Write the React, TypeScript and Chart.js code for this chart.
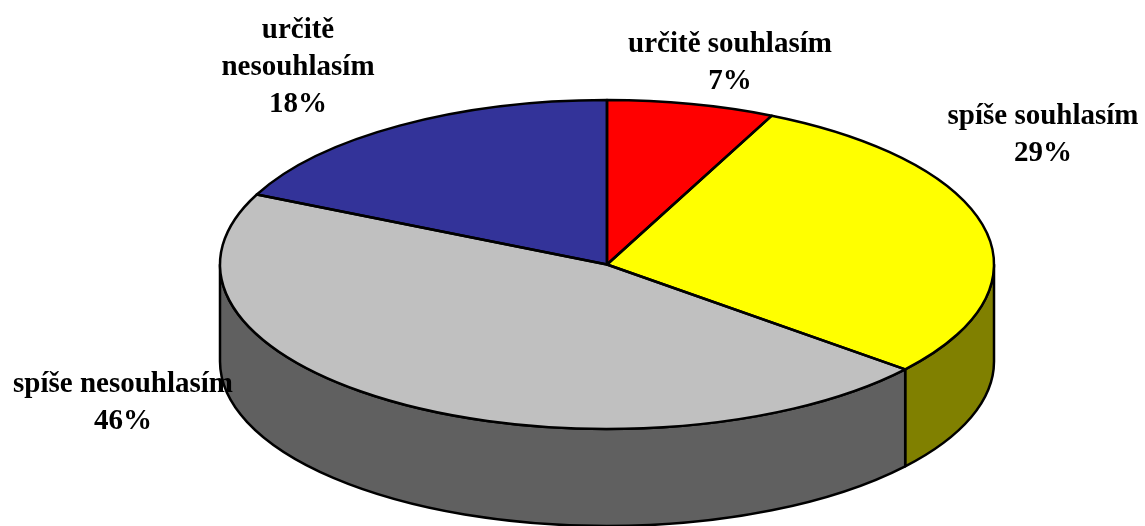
import React, { useEffect, useRef } from "react";
import { Chart, registerables } from "chart.js";

Chart.register(...registerables);

const categories = ["určitě souhlasím", "spíše souhlasím", "spíše nesouhlasím", "určitě nesouhlasím"];
const labelLines = [["určitě souhlasím"], ["spíše souhlasím"], ["spíše nesouhlasím"], ["určitě", "nesouhlasím"]];
const shares = [7, 29, 46, 18];
const topColors = ["#ff0000", "#ffff00", "#c0c0c0", "#333399"];
const wallColors = ["#800000", "#808000", "#606060", "#1a1a4d"];

const RX = 387;
const RY = 164.5;
const DEPTH = 97;
const LINE_H = 37;
const labelAnchors = [
  { x: 730, y: 52 },
  { x: 1043, y: 124 },
  { x: 123, y: 392 },
  { x: 298, y: 38 },
];

const squashPie = {
  id: "squashPie",
  beforeDatasetsDraw(chart: any) {
    const ctx = chart.ctx;
    const arcs = chart.getDatasetMeta(0).data;
    ctx.save();
    ctx.lineWidth = 2.5;
    ctx.strokeStyle = "#000";
    ctx.lineJoin = "round";
    arcs.forEach((arc: any, i: number) => {
      const a1 = Math.max(arc.startAngle, 0);
      const a2 = Math.min(arc.endAngle, Math.PI);
      if (a2 <= a1) return;
      ctx.beginPath();
      ctx.ellipse(arc.x, arc.y, RX, RY, 0, a1, a2);
      ctx.ellipse(arc.x, arc.y + DEPTH, RX, RY, 0, a2, a1, true);
      ctx.closePath();
      ctx.fillStyle = wallColors[i];
      ctx.fill();
      ctx.stroke();
    });
    ctx.restore();
  },
  beforeDatasetDraw(chart: any) {
    const ctx = chart.ctx;
    const a = chart.getDatasetMeta(0).data[0];
    ctx.save();
    ctx.translate(a.x, a.y);
    ctx.scale(1, RY / RX);
    ctx.translate(-a.x, -a.y);
  },
  afterDatasetDraw(chart: any) {
    const ctx = chart.ctx;
    ctx.restore();
    const arcs = chart.getDatasetMeta(0).data;
    ctx.save();
    ctx.lineWidth = 2.5;
    ctx.strokeStyle = "#000";
    ctx.lineJoin = "round";
    arcs.forEach((arc: any) => {
      ctx.beginPath();
      ctx.moveTo(arc.x, arc.y);
      ctx.ellipse(arc.x, arc.y, RX, RY, 0, arc.startAngle, arc.endAngle);
      ctx.closePath();
      ctx.stroke();
    });
    ctx.restore();
  },
  afterDraw(chart: any) {
    const ctx = chart.ctx;
    ctx.save();
    ctx.font = "bold 29px 'Liberation Serif'";
    ctx.fillStyle = "#000";
    ctx.textAlign = "center";
    ctx.textBaseline = "alphabetic";
    shares.forEach((v, i) => {
      const lines = [...labelLines[i], `${v}%`];
      lines.forEach((t, j) => {
        ctx.fillText(t, labelAnchors[i].x, labelAnchors[i].y + j * LINE_H);
      });
    });
    ctx.restore();
  },
};

export default function App() {
  const ref = useRef<HTMLCanvasElement>(null);
  useEffect(() => {
    const chart = new Chart(ref.current!, {
      type: "pie",
      data: {
        labels: categories,
        datasets: [
          {
            data: shares,
            backgroundColor: topColors,
            borderWidth: 0,
            clip: false,
          } as any,
        ],
      },
      options: {
        animation: false,
        responsive: false,
        radius: RX,
        layout: { padding: { left: 69, top: 3 } },
        plugins: { legend: { display: false }, tooltip: { enabled: false } },
      } as any,
      plugins: [squashPie],
    });
    return () => chart.destroy();
  }, []);
  return (
    <canvas
      ref={ref}
      width={1145}
      height={526}
      style={{ position: "absolute", left: 0, top: 0, display: "block", width: 1145, height: 526 }}
    />
  );
}
